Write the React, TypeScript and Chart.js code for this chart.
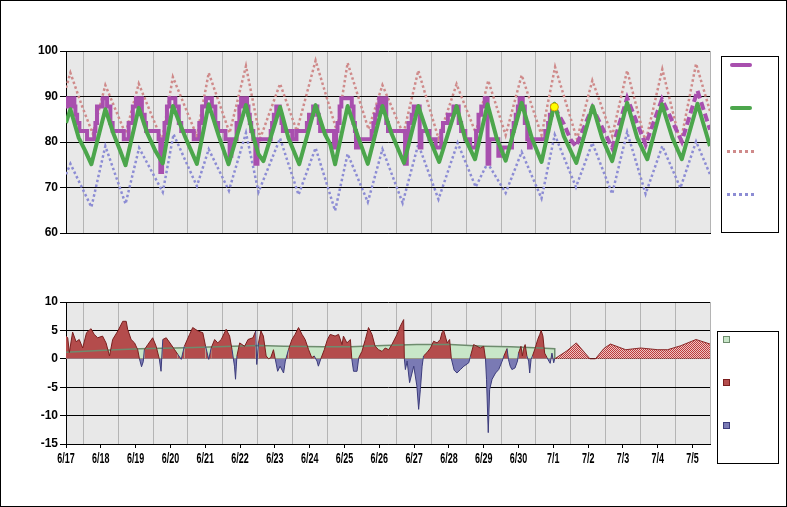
import React, { useEffect, useRef } from 'react';
import { Chart, registerables } from 'chart.js';

Chart.register(...registerables);

// ---------- axis labels ----------
const DAY_LABELS = ['6/17', '6/18', '6/19', '6/20', '6/21', '6/22', '6/23', '6/24', '6/25', '6/26', '6/27', '6/28', '6/29', '6/30', '7/1', '7/2', '7/3', '7/4', '7/5'];
const X_MAX = 18.5; // days after 6/17 00:00

// ---------- top chart: temperatures (F), x = days after 6/17 ----------
const NORMAL_X = [0, 0.127, 0.366, 0.557, 0.73, 1.13, 1.37, 1.56, 1.71, 2.09, 2.33, 2.57, 2.78, 3.07, 3.43, 3.76, 4.1, 4.39, 4.67, 5.17, 5.39, 5.53, 5.67, 6.15, 6.39, 6.7, 7.17, 7.44, 7.59, 7.73, 8.09, 8.4, 8.67, 9.09, 9.36, 9.71, 10.12, 10.41, 10.72, 11.22, 11.46, 11.75, 12.11, 12.37, 12.63, 13.09, 13.38, 13.66, 14.03, 14.3, 14.66, 15.13, 15.4, 15.69, 16.12, 16.41, 16.7, 17.12, 17.42, 17.69, 18.14, 18.5];
const NORMAL_Y = [84.2, 87.2, 80.9, 78.0, 75.1, 87.2, 81.7, 78.0, 74.9, 87.5, 82.0, 78.0, 75.3, 87.9, 81.0, 75.2, 88.3, 81.3, 75.1, 88.1, 80.9, 77.3, 75.8, 87.7, 80.9, 75.1, 88.1, 81.7, 79.5, 75.1, 87.9, 80.9, 75.2, 87.9, 81.7, 75.4, 87.9, 81.3, 75.6, 87.9, 80.9, 76.2, 88.3, 80.9, 75.9, 88.6, 80.9, 75.6, 88.4, 81.3, 75.4, 87.9, 80.9, 75.8, 88.6, 80.9, 76.2, 88.3, 80.9, 76.2, 88.4, 79.1];

const HIGH_X = [0, 0.127, 0.46, 0.77, 1.13, 1.71, 2.09, 2.76, 3.07, 3.76, 4.1, 4.7, 5.17, 5.58, 6.15, 6.63, 7.17, 7.78, 8.09, 8.69, 9.09, 9.69, 10.12, 10.7, 11.22, 11.77, 12.13, 12.63, 13.09, 13.66, 14.05, 14.68, 15.12, 15.69, 16.12, 16.65, 17.13, 17.65, 18.1, 18.5];
const HIGH_Y = [91.9, 95.2, 87.9, 81.8, 92.5, 81.8, 92.8, 80.3, 94.3, 81.3, 95.2, 82.0, 96.7, 80.8, 92.8, 82.4, 97.9, 82.4, 97.4, 82.8, 92.5, 81.7, 95.7, 80.8, 92.7, 82.0, 93.5, 81.5, 94.7, 81.5, 96.5, 80.6, 93.5, 81.3, 95.7, 80.0, 96.0, 79.8, 97.2, 86.8];

const LOW_X = [0, 0.127, 0.73, 1.13, 1.71, 2.1, 2.78, 3.09, 3.76, 4.1, 4.68, 5.17, 5.53, 6.15, 6.68, 7.17, 7.73, 8.09, 8.67, 9.09, 9.67, 10.12, 10.7, 11.25, 11.77, 12.11, 12.63, 13.09, 13.66, 14.04, 14.65, 15.12, 15.69, 16.12, 16.65, 17.13, 17.65, 18.1, 18.5];
const LOW_Y = [72.9, 75.2, 65.7, 79.1, 66.4, 78.7, 69.0, 81.7, 70.3, 78.4, 69.3, 82.0, 69.0, 80.8, 68.4, 78.7, 64.9, 77.4, 66.8, 78.4, 66.6, 79.5, 67.4, 79.8, 70.1, 75.4, 68.8, 77.8, 67.6, 81.6, 70.1, 79.8, 68.6, 82.2, 68.6, 79.1, 69.9, 80.1, 72.9];

// observed temperature, value holds from x until the next x
const OBS_X = [0, 0.03, 0.06, 0.09, 0.14, 0.18, 0.24, 0.27, 0.32, 0.385, 0.605, 0.815, 0.845, 0.89, 1.055, 1.18, 1.275, 1.34, 1.66, 1.8, 1.92, 2.01, 2.07, 2.11, 2.18, 2.26, 2.3, 2.66, 2.71, 2.76, 2.83, 2.9, 2.97, 3.14, 3.24, 3.31, 3.67, 3.83, 3.91, 4.02, 4.19, 4.29, 4.37, 4.58, 4.7, 4.75, 4.9, 4.98, 5.03, 5.1, 5.14, 5.2, 5.24, 5.28, 5.32, 5.38, 5.44, 5.5, 5.88, 5.92, 5.97, 6.04, 6.14, 6.19, 6.23, 6.5, 6.62, 6.92, 6.98, 7.1, 7.22, 7.26, 7.3, 7.7, 7.76, 7.8, 7.86, 7.91, 8.21, 8.26, 8.3, 8.33, 8.4, 8.78, 8.83, 8.88, 8.95, 9.0, 9.1, 9.15, 9.2, 9.25, 9.74, 9.79, 9.84, 9.93, 9.99, 10.16, 10.21, 10.44, 10.62, 10.78, 10.83, 10.97, 11.13, 11.28, 11.35, 11.47, 11.61, 11.78, 11.85, 11.93, 12.03, 12.11, 12.16, 12.42, 12.54, 12.81, 12.86, 12.92, 12.98, 13.03, 13.12, 13.18, 13.25, 13.3, 13.35, 13.77, 13.85, 13.9, 13.96, 14.03];
const OBS_Y = [87.8, 89.6, 87.8, 89.6, 87.8, 89.6, 87.8, 86, 84.2, 82.4, 80.6, 82.4, 84.2, 87.8, 89.6, 87.8, 84.2, 82.4, 80.6, 84.2, 87.8, 89.6, 87.8, 89.6, 86, 84.2, 82.4, 80.6, 73.4, 80.6, 84.2, 87.8, 89.6, 87.8, 84.2, 82.4, 80.6, 84.2, 87.8, 89.6, 87.8, 84.2, 82.4, 80.6, 77, 80.6, 84.2, 87.8, 89.6, 87.8, 89.6, 87.8, 86, 84.2, 82.4, 80.6, 75.2, 80.6, 82.4, 84.2, 86, 87.8, 86, 84.2, 82.4, 80.6, 82.4, 84.2, 86, 87.8, 86, 84.2, 82.4, 78.8, 82.4, 84.2, 87.8, 89.6, 87.8, 84.2, 82.4, 78.8, 80.6, 82.4, 84.2, 86, 87.8, 89.6, 87.8, 89.6, 84.2, 82.4, 75.2, 80.6, 84.2, 86, 87.8, 78.8, 82.4, 80.6, 78.8, 82.4, 84.2, 86, 87.8, 84.2, 82.4, 80.6, 78.8, 82.4, 86, 87.8, 89.6, 75.2, 80.6, 77, 78.8, 82.4, 84.2, 86, 87.8, 89.6, 87.8, 84.2, 80.6, 78.8, 80.6, 82.4, 84.2, 86, 87.8, 87.8];

// forecast temperature (dashed)
const FCST_X = [14.03, 14.3, 14.5, 14.65, 15.12, 15.69, 16.12, 16.65, 17.12, 17.69, 18.14, 18.5];
const FCST_Y = [87.7, 84.0, 80.5, 79.0, 87.6, 78.7, 89.7, 79.4, 89.4, 80.1, 91.3, 82.7];

const NOW_X = [14.03];
const NOW_Y = [87.7];

// ---------- bottom chart: departures (F) ----------
const DIFF_X = [0, 0.05, 0.096, 0.19, 0.29, 0.38, 0.48, 0.59, 0.72, 0.81, 0.91, 1.05, 1.15, 1.25, 1.34, 1.49, 1.63, 1.73, 1.77, 1.87, 1.97, 2.06, 2.11, 2.17, 2.22, 2.25, 2.35, 2.49, 2.59, 2.68, 2.73, 2.78, 2.88, 3.02, 3.12, 3.21, 3.31, 3.4, 3.55, 3.64, 3.79, 3.93, 4.01, 4.1, 4.17, 4.27, 4.36, 4.46, 4.6, 4.7, 4.77, 4.84, 4.87, 4.91, 4.99, 5.13, 5.23, 5.37, 5.45, 5.48, 5.53, 5.6, 5.67, 5.75, 5.82, 5.88, 5.96, 6.01, 6.08, 6.15, 6.25, 6.3, 6.39, 6.49, 6.58, 6.68, 6.78, 6.87, 6.97, 7.06, 7.13, 7.21, 7.25, 7.32, 7.42, 7.51, 7.59, 7.73, 7.83, 7.93, 7.97, 8.07, 8.17, 8.21, 8.26, 8.36, 8.41, 8.5, 8.6, 8.69, 8.79, 8.88, 8.98, 9.08, 9.17, 9.27, 9.36, 9.51, 9.6, 9.7, 9.72, 9.75, 9.8, 9.87, 9.94, 9.99, 10.08, 10.13, 10.18, 10.23, 10.27, 10.37, 10.47, 10.56, 10.66, 10.75, 10.8, 10.85, 10.95, 11.02, 11.07, 11.15, 11.23, 11.33, 11.43, 11.57, 11.62, 11.71, 11.81, 11.9, 12.0, 12.05, 12.08, 12.13, 12.17, 12.24, 12.34, 12.43, 12.53, 12.58, 12.67, 12.71, 12.76, 12.81, 12.9, 12.97, 13.0, 13.07, 13.11, 13.14, 13.19, 13.24, 13.29, 13.32, 13.36, 13.4, 13.48, 13.55, 13.61, 13.65, 13.7, 13.75, 13.82, 13.87, 13.91, 13.96, 14.01, 14.04];
const DIFF_Y = [4.0, 3.7, 1.1, 4.7, 3.0, 3.4, 1.9, 4.6, 5.3, 4.3, 3.7, 4.0, 2.8, 0.5, 3.4, 4.9, 6.6, 6.6, 5.2, 3.4, 2.8, 1.6, 0, -1.4, -0.5, 1.6, 2.5, 3.7, 2.2, 0, -2.2, 3.4, 3.7, 2.5, 1.6, 0.8, -0.1, 2.2, 4.3, 5.5, 4.9, 4.6, 2.2, -0.1, 1.9, 3.4, 2.8, 3.4, 5.2, 4.0, 1.6, -1.3, -3.6, 0.5, 2.8, 2.2, 3.4, 3.7, 4.9, -1.0, 2.8, 4.9, 4.0, 0.5, 0, 0.2, 1.6, 0, -2.2, -1.3, -2.5, -0.4, 1.6, 3.4, 4.3, 5.5, 4.3, 3.4, 1.6, 0.2, 0.5, -0.4, -1.3, 0, 1.6, 3.4, 4.3, 4.0, 4.3, 2.5, 4.0, 2.8, 3.4, 0, -2.2, -2.2, 0.2, 1.3, 3.4, 5.5, 4.3, 2.2, 1.6, 1.3, 1.9, 1.6, 2.5, 4.3, 5.7, 6.9, 0, -1.9, -0.4, -4.2, -2.5, -1.3, -4.8, -8.9, -5.4, -1.3, 0.5, 1.1, 1.9, 3.1, 2.8, 3.4, 4.6, 5.0, 2.8, 3.4, 0, -2.0, -2.5, -1.9, -1.3, -0.7, 0.5, 2.5, 2.2, 1.9, 2.2, 0, -3.6, -13.0, -5.4, -3.6, -2.5, -1.9, -0.4, 0.5, 1.8, -0.1, -1.3, -1.9, -1.6, -0.4, 1.0, 2.2, 0.5, 1.6, 2.5, 0.5, -0.4, -2.5, -0.1, 0.5, 1.9, 3.4, 4.3, 5.0, 4.0, 1.0, 0.2, -0.4, -0.8, 1.0, -0.7, 0];

const AVG_X = [0, 0.96, 2.11, 3.45, 4.79, 5.56, 6.26, 7.4, 8.17, 9.12, 10.08, 11.04, 12.0, 12.77, 13.46, 14.04, 14.04];
const AVG_Y = [1.17, 1.47, 1.76, 1.94, 2.23, 2.35, 2.23, 2.1, 2.1, 2.35, 2.5, 2.5, 2.23, 2.1, 1.94, 1.76, 0];

const FDIFF_X = [14.04, 14.39, 14.66, 15.05, 15.21, 15.45, 15.64, 16.08, 16.51, 17.0, 17.28, 17.66, 18.1, 18.5];
const FDIFF_Y = [0, 1.4, 2.8, 0, 0, 1.8, 2.6, 1.6, 1.9, 1.6, 1.6, 2.3, 3.4, 2.6];

// ---------- styling ----------
const C_PURPLE = '#a84fae';
const C_GREEN = '#4ca64c';
const C_PINK = '#cf8a8a';
const C_BLUE = '#8c8cd4';
const C_RED_FILL = '#b44c4c';
const C_RED_EDGE = '#7a1e1e';
const C_BLUE_FILL = '#7a7ab4';
const C_BLUE_EDGE = '#3c3c7c';
const C_AVG_FILL = '#c8e6c8';
const C_AVG_EDGE = '#6e8c6e';
const PLOT_BG = '#e8e8e8';

const Y_FONT = { family: "'Liberation Sans', Arial, sans-serif", size: 12, weight: 'bold' as const };
const X_FONT_CSS = "bold 14px 'Liberation Sans', Arial, sans-serif";

const pts = (xs: number[], ys: number[]) => xs.map((x, i) => ({ x, y: ys[i] }));

const bgPlugin = {
  id: 'plotBg',
  beforeDraw(chart: any) {
    const { ctx, chartArea: a } = chart;
    ctx.save();
    ctx.fillStyle = PLOT_BG;
    ctx.fillRect(a.left, a.top, a.right - a.left, a.bottom - a.top);
    ctx.restore();
  },
};

// draws the day labels of the x axis in a condensed face
const xLabelPlugin = {
  id: 'condensedXLabels',
  afterDraw(chart: any) {
    const s = chart.scales.x;
    const ctx = chart.ctx;
    ctx.save();
    ctx.fillStyle = '#000';
    ctx.font = X_FONT_CSS;
    ctx.textAlign = 'center';
    ctx.textBaseline = 'middle';
    DAY_LABELS.forEach((lab, i) => {
      const px = s.getPixelForValue(i);
      ctx.save();
      ctx.translate(px, s.top + 15.5);
      ctx.scale(0.64, 1);
      ctx.fillText(lab, 0, 0);
      ctx.restore();
    });
    ctx.restore();
  },
};

const isInt = (v: number) => Math.abs(v - Math.round(v)) < 1e-6;

function xScale(showLabels: boolean) {
  return {
    type: 'linear' as const,
    min: 0,
    max: X_MAX,
    afterFit: (s: any) => { s.height = showLabels ? 30 : 0; },
    border: { display: true, color: '#000', width: 1 },
    grid: {
      drawTicks: showLabels,
      tickLength: 4,
      lineWidth: 1,
      color: (c: any) => (c.tick && isInt(c.tick.value) ? 'rgba(0,0,0,0)' : '#b4b4b4'),
      tickColor: (c: any) => (c.tick && isInt(c.tick.value) ? '#000' : 'rgba(0,0,0,0)'),
    },
    ticks: {
      display: showLabels,
      stepSize: 0.5,
      autoSkip: false,
      maxRotation: 0,
      padding: 4,
      color: 'rgba(0,0,0,0)',
      font: { size: 12 },
      callback: (v: any) => (isInt(Number(v)) ? DAY_LABELS[Math.round(Number(v))] : ''),
    },
  };
}

function yScale(min: number, max: number, step: number) {
  return {
    min,
    max,
    afterFit: (s: any) => { s.width = 66; },
    border: { display: true, color: '#000', width: 1 },
    grid: { color: '#000', lineWidth: 1, tickLength: 6, tickColor: '#000' },
    ticks: { stepSize: step, color: '#000', font: Y_FONT, padding: 2 },
  };
}

export default function App() {
  const topRef = useRef<HTMLCanvasElement | null>(null);
  const botRef = useRef<HTMLCanvasElement | null>(null);

  useEffect(() => {
    const top = new Chart(topRef.current as HTMLCanvasElement, {
      type: 'line',
      data: {
        datasets: [
          { data: pts(NOW_X, NOW_Y), showLine: false, pointRadius: 4, pointBackgroundColor: '#ffff00', pointBorderColor: '#d0a000', pointBorderWidth: 1, order: 0 } as any,
          { data: pts(NORMAL_X, NORMAL_Y), borderColor: C_GREEN, borderWidth: 4, pointRadius: 0, borderJoinStyle: 'round', order: 1 },
          { data: pts(FCST_X, FCST_Y), borderColor: C_PURPLE, borderWidth: 4, borderDash: [8, 4], pointRadius: 0, order: 2 },
          { data: pts(OBS_X, OBS_Y), borderColor: C_PURPLE, borderWidth: 4, stepped: true, pointRadius: 0, order: 2 },
          { data: pts(HIGH_X, HIGH_Y), borderColor: C_PINK, borderWidth: 2.5, borderDash: [2.5, 2.5], pointRadius: 0, order: 4 },
          { data: pts(LOW_X, LOW_Y), borderColor: C_BLUE, borderWidth: 2.5, borderDash: [2.5, 2.5], pointRadius: 0, order: 4 },
        ],
      },
      options: {
        animation: false,
        responsive: false,
        events: [],
        layout: { padding: { left: 0, top: 51, right: 77, bottom: 274 } },
        plugins: { legend: { display: false }, tooltip: { enabled: false } },
        scales: { x: xScale(false) as any, y: yScale(60, 100, 10) as any },
      },
      plugins: [bgPlugin],
    });

    const ctx2 = (botRef.current as HTMLCanvasElement).getContext('2d') as CanvasRenderingContext2D;
    const pc = document.createElement('canvas');
    pc.width = 4;
    pc.height = 4;
    const g = pc.getContext('2d') as CanvasRenderingContext2D;
    g.fillStyle = '#eec4c4';
    g.fillRect(0, 0, 4, 4);
    g.fillStyle = '#bc3c3c';
    for (let yy = 0; yy < 4; yy++) for (let xx = 0; xx < 4; xx++) if ((xx + yy) % 2 === 0) g.fillRect(xx, yy, 1, 1);
    const hatch = ctx2.createPattern(pc, 'repeat');

    const bot = new Chart(botRef.current as HTMLCanvasElement, {
      type: 'line',
      data: {
        datasets: [
          {
            data: pts(DIFF_X, DIFF_Y),
            borderWidth: 1,
            pointRadius: 0,
            fill: { target: 'origin', above: C_RED_FILL, below: C_BLUE_FILL },
            borderColor: C_RED_EDGE,
            segment: {
              borderColor: (c: any) => (c.p0.parsed.y < 0 || c.p1.parsed.y < 0 ? C_BLUE_EDGE : C_RED_EDGE),
            },
            order: 1,
          } as any,
          { data: pts(FDIFF_X, FDIFF_Y), borderWidth: 1, pointRadius: 0, fill: 'origin', backgroundColor: hatch as any, borderColor: '#8a2a2a', order: 2 },
          { data: pts(AVG_X, AVG_Y), borderWidth: 1.5, pointRadius: 0, fill: 'origin', backgroundColor: C_AVG_FILL, borderColor: C_AVG_EDGE, order: 3 },
        ],
      },
      options: {
        animation: false,
        responsive: false,
        events: [],
        layout: { padding: { left: 0, top: 302, right: 77, bottom: 33 } },
        plugins: { legend: { display: false }, tooltip: { enabled: false }, filler: { drawTime: 'beforeDatasetsDraw' } } as any,
        scales: { x: xScale(true) as any, y: yScale(-15, 10, 5) as any },
      },
      plugins: [bgPlugin, xLabelPlugin],
    });

    return () => {
      top.destroy();
      bot.destroy();
    };
  }, []);

  const abs = (s: React.CSSProperties): React.CSSProperties => ({ position: 'absolute', ...s });

  return (
    <div style={abs({ left: 0, top: 0, width: 787, height: 507, background: '#fff', overflow: 'hidden' })}>
      <canvas ref={topRef} width={787} height={507} style={abs({ left: 0, top: 0, width: 787, height: 507 })} />
      <canvas ref={botRef} width={787} height={507} style={abs({ left: 0, top: 0, width: 787, height: 507 })} />
      <div style={abs({ left: 0, top: 0, width: 787, height: 507, border: '1px solid #000', boxSizing: 'border-box', pointerEvents: 'none' })} />
      {/* top legend */}
      <div style={abs({ left: 721, top: 56, width: 58, height: 177, border: '1px solid #000', boxSizing: 'border-box', background: '#fff' })} />
      <div style={abs({ left: 730, top: 63, width: 22, height: 4, background: C_PURPLE, borderRadius: 2 })} />
      <div style={abs({ left: 730, top: 106, width: 22, height: 4, background: C_GREEN, borderRadius: 2 })} />
      <div style={abs({ left: 727, top: 150, width: 27, height: 0, borderTop: `3px dotted ${C_PINK}` })} />
      <div style={abs({ left: 727, top: 193, width: 27, height: 0, borderTop: `3px dotted ${C_BLUE}` })} />
      {/* bottom legend */}
      <div style={abs({ left: 717, top: 331, width: 62, height: 133, border: '1px solid #000', boxSizing: 'border-box', background: '#fff' })} />
      <div style={abs({ left: 723, top: 336, width: 7, height: 7, background: C_AVG_FILL, border: `1px solid ${C_AVG_EDGE}`, boxSizing: 'border-box' })} />
      <div style={abs({ left: 723, top: 379, width: 7, height: 7, background: C_RED_FILL, border: `1px solid ${C_RED_EDGE}`, boxSizing: 'border-box' })} />
      <div style={abs({ left: 723, top: 422, width: 7, height: 7, background: C_BLUE_FILL, border: `1px solid ${C_BLUE_EDGE}`, boxSizing: 'border-box' })} />
    </div>
  );
}
